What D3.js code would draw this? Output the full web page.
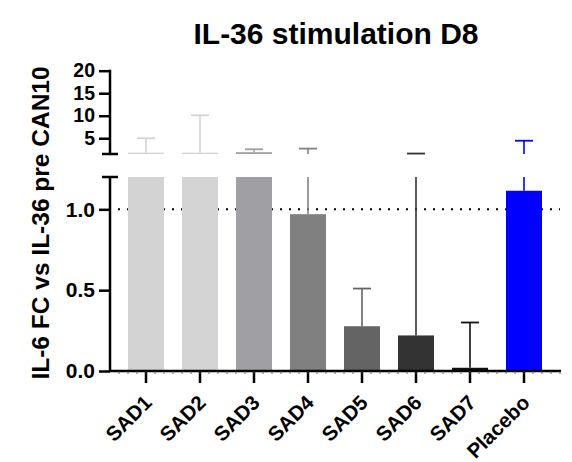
<!DOCTYPE html>
<html>
<head>
<meta charset="utf-8">
<script src="https://cdn.jsdelivr.net/npm/d3@7"></script>
<style>
  body { margin: 0; background: #fff; }
  text { font-family: "Liberation Sans", Arial, sans-serif; font-weight: bold; fill: #000; }
</style>
</head>
<body>
<div id="chart"></div>
<script>
// data
var groups = ["SAD1", "SAD2", "SAD3", "SAD4", "SAD5", "SAD6", "SAD7", "Placebo"];
var means = [1.8, 1.8, 1.9, 0.97, 0.277, 0.22, 0.02, 1.115];
var errTop = [5.0, 10.1, 2.55, 2.7, 0.51, 1.6, 0.30, 4.45];
var colors = ["#d3d3d3", "#d4d4d4", "#a0a0a4", "#808080", "#646464", "#333333", "#111111", "#0000ff"];
var lowTicks = [0, 0.5, 1.0];
var highTicks = [5, 10, 15, 20];
var refLine = 1.0;

var width = 572, height = 462;
var svg = d3.select("#chart").append("svg")
    .attr("width", width)
    .attr("height", height);

// broken y axis: two segments
var lowDomain = [0, 1.2], highDomain = [1.5, 20];
var yLow = d3.scaleLinear().domain(lowDomain).range([371, 177]);
var yHigh = d3.scaleLinear().domain(highDomain).range([154, 70.7]);

var x = d3.scaleBand()
    .domain(groups)
    .range([110, 560])
    .paddingInner(1 / 3)
    .paddingOuter(1 / 3);

var axisX0 = 110;

// dotted reference line (behind bars)
svg.append("line")
    .attr("x1", axisX0 + 8)
    .attr("x2", 560)
    .attr("y1", yLow(refLine))
    .attr("y2", yLow(refLine))
    .attr("stroke", "#000")
    .attr("stroke-width", 2)
    .attr("stroke-dasharray", "2,7");

// bars, lower segment
svg.selectAll(".barlow")
    .data(groups)
    .enter().append("rect")
    .attr("class", "barlow")
    .attr("x", function(d) { return x(d); })
    .attr("width", x.bandwidth())
    .attr("y", function(d, i) { return yLow(Math.min(means[i], lowDomain[1])); })
    .attr("height", function(d, i) { return yLow(0) - yLow(Math.min(means[i], lowDomain[1])); })
    .attr("fill", function(d, i) { return colors[i]; });

// bars, upper segment (only those above the break)
svg.selectAll(".barhigh")
    .data(groups.filter(function(d, i) { return means[i] > highDomain[0]; }))
    .enter().append("rect")
    .attr("class", "barhigh")
    .attr("x", function(d) { return x(d); })
    .attr("width", x.bandwidth())
    .attr("y", function(d) { return yHigh(means[groups.indexOf(d)]); })
    .attr("height", function(d) { return yHigh(highDomain[0]) - yHigh(means[groups.indexOf(d)]); })
    .attr("fill", function(d) { return colors[groups.indexOf(d)]; });

// error bars
var capW = 18;
groups.forEach(function(g, i) {
    var cx = x(g) + x.bandwidth() / 2;
    var v = means[i], e = errTop[i];
    var col = colors[i];
    // part in lower segment
    if (v < lowDomain[1]) {
        svg.append("line")
            .attr("x1", cx).attr("x2", cx)
            .attr("y1", yLow(v))
            .attr("y2", yLow(Math.min(e, lowDomain[1])))
            .attr("stroke", col).attr("stroke-width", 1.6);
    }
    if (e > highDomain[0]) {
        svg.append("line")
            .attr("x1", cx).attr("x2", cx)
            .attr("y1", yHigh(Math.max(v, highDomain[0])))
            .attr("y2", yHigh(e))
            .attr("stroke", col).attr("stroke-width", 1.6);
        svg.append("line")
            .attr("x1", cx - capW / 2).attr("x2", cx + capW / 2)
            .attr("y1", yHigh(e)).attr("y2", yHigh(e))
            .attr("stroke", col).attr("stroke-width", 1.8);
    } else {
        svg.append("line")
            .attr("x1", cx - capW / 2).attr("x2", cx + capW / 2)
            .attr("y1", yLow(e)).attr("y2", yLow(e))
            .attr("stroke", col).attr("stroke-width", 1.8);
    }
});

// y axes
function styleAxis(size) {
    return function(g) {
        g.select(".domain").remove();
        g.selectAll(".tick line").attr("stroke", "#000").attr("stroke-width", 2.5);
        g.selectAll(".tick text").attr("font-size", size).attr("x", -15);
    };
}

var gLow = svg.append("g")
    .attr("transform", "translate(" + axisX0 + ",0)")
    .call(d3.axisLeft(yLow).tickValues(lowTicks).tickSize(11).tickFormat(d3.format(".1f")))
    .call(styleAxis("21px"));

var gHigh = svg.append("g")
    .attr("transform", "translate(" + axisX0 + ",0)")
    .call(d3.axisLeft(yHigh).tickValues(highTicks).tickSize(11).tickFormat(d3.format("d")))
    .call(styleAxis("19.5px"));

// axis spines with break marks
[[yLow.range()[0] + 1, yLow.range()[1]], [yHigh.range()[0], yHigh.range()[1] - 1]].forEach(function(r) {
    svg.append("line")
        .attr("x1", axisX0).attr("x2", axisX0)
        .attr("y1", r[0]).attr("y2", r[1])
        .attr("stroke", "#000").attr("stroke-width", 2.5);
});
[yLow.range()[1], yHigh.range()[0]].forEach(function(yy) {
    svg.append("line")
        .attr("x1", axisX0 - 8).attr("x2", axisX0 + 8)
        .attr("y1", yy).attr("y2", yy)
        .attr("stroke", "#000").attr("stroke-width", 2.5);
});

// x axis
var gx = svg.append("g")
    .attr("transform", "translate(0," + yLow(0) + ")")
    .call(d3.axisBottom(x).tickSize(12).tickSizeOuter(0));
gx.select(".domain").remove();
gx.selectAll(".tick line").attr("stroke", "#000").attr("stroke-width", 2.5);
gx.selectAll(".tick text")
    .attr("font-size", "20.5px")
    .attr("text-anchor", "end")
    .attr("dy", null)
    .attr("transform", "translate(7,33) rotate(-45)")
    .attr("x", 0).attr("y", 0);

svg.append("line")
    .attr("x1", axisX0 - 1).attr("x2", 561)
    .attr("y1", yLow(0)).attr("y2", yLow(0))
    .attr("stroke", "#000").attr("stroke-width", 2.5);

// minor ticks on x axis
var minor = [];
var step = x.step();
for (var k = 1; k * step / 6 < 560 - axisX0; k++) minor.push(axisX0 + k * step / 6);
svg.selectAll(".minor")
    .data(minor)
    .enter().append("line")
    .attr("x1", function(d) { return d; }).attr("x2", function(d) { return d; })
    .attr("y1", yLow(0)).attr("y2", yLow(0) + 3)
    .attr("stroke", "#444").attr("stroke-width", 0.8);

// title
svg.append("text")
    .attr("x", 336)
    .attr("y", 44)
    .attr("text-anchor", "middle")
    .attr("font-size", "30px")
    .text("IL-36 stimulation D8");

// y label
svg.append("text")
    .attr("transform", "translate(49,223) rotate(-90)")
    .attr("text-anchor", "middle")
    .attr("font-size", "24.5px")
    .text("IL-6 FC vs IL-36 pre CAN10");
</script>
</body>
</html>
